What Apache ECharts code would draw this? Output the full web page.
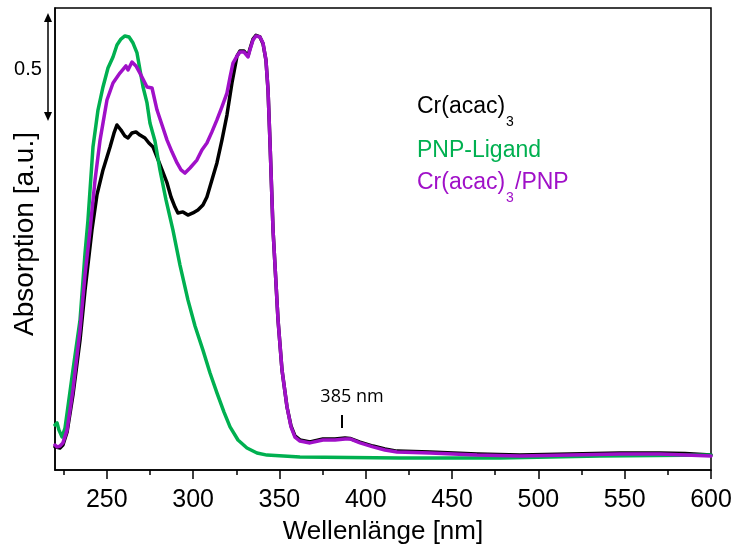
<!DOCTYPE html>
<html><head><meta charset="utf-8">
<script src="https://cdn.jsdelivr.net/npm/echarts@6/dist/echarts.min.js"></script>
<style>html,body{margin:0;padding:0;background:#fff}#c{width:736px;height:550px}</style>
</head><body><div id="c"></div>
<script>
// Wavelength tick labels
const xMajorTicks = [250, 300, 350, 400, 450, 500, 550, 600];
const xMinorTicks = [225, 275, 325, 375, 425, 475, 525, 575];

// PNP-Ligand (green)
const ligandNm  = [220.0,221.2,222.3,224.1,225.8,227.0,230.4,234.5,237.4,239.1,242.0,244.9,247.8,250.7,253.6,255.9,258.2,260.5,262.9,265.2,267.5,271.0,273.3,275.0,277.9,280.8,284.3,288.3,292.4,297.0,301.1,305.7,309.8,313.8,317.9,321.4,326.0,331.2,337.0,342.8,361.9,419.8,477.7,535.6,600.0];
const ligandAbs = [0.214,0.224,0.190,0.157,0.200,0.271,0.476,0.714,1.033,1.190,1.538,1.714,1.824,1.914,1.967,2.024,2.052,2.067,2.062,2.033,1.986,1.824,1.748,1.652,1.567,1.429,1.286,1.143,0.976,0.810,0.686,0.571,0.462,0.367,0.276,0.205,0.143,0.105,0.081,0.071,0.062,0.057,0.057,0.067,0.071];

// Cr(acac)3 (black)
const crNm  = [220.0,222.9,224.6,227.0,230.4,234.5,237.4,241.4,244.3,247.8,251.9,254.2,255.9,258.2,260.5,262.3,264.6,266.9,269.2,272.1,274.4,276.8,279.1,282.0,284.9,287.2,289.5,291.2,294.1,297.0,299.9,302.8,305.7,308.0,310.9,313.8,316.7,319.6,322.5,325.4,327.1,329.5,331.8,332.9,334.7,336.4,338.7,340.5,342.2,343.4,344.5,346.3,349.2,351.5,354.4,356.7,359.0,361.9,367.7,375.2,382.2,388.0,390.9,396.7,404.2,411.1,418.1,437.2,464.4,489.3,518.3,547.2,570.4,585.0,600.0];
const crAbs = [0.110,0.105,0.119,0.181,0.357,0.619,0.857,1.143,1.310,1.429,1.538,1.605,1.643,1.619,1.590,1.581,1.605,1.610,1.595,1.581,1.557,1.538,1.490,1.429,1.367,1.300,1.252,1.224,1.229,1.214,1.224,1.238,1.262,1.300,1.381,1.462,1.571,1.690,1.843,1.971,1.995,1.995,1.972,2.005,2.052,2.070,2.062,2.030,1.952,1.810,1.571,1.143,0.714,0.476,0.300,0.210,0.162,0.143,0.133,0.148,0.148,0.152,0.150,0.133,0.114,0.100,0.090,0.086,0.076,0.071,0.076,0.081,0.081,0.078,0.071];

// Cr(acac)3/PNP (purple)
const mixNm  = [220.0,221.2,222.9,224.6,227.0,230.4,234.5,237.4,240.3,243.2,246.1,250.1,253.6,257.6,261.1,262.3,264.6,266.9,269.2,273.3,276.2,279.1,282.0,284.9,287.8,290.7,293.0,295.3,298.2,302.2,305.1,308.0,310.9,313.8,316.7,319.6,321.4,323.1,325.4,327.1,329.5,331.8,332.9,334.7,336.4,338.7,340.5,342.2,343.4,344.5,346.3,349.2,351.5,354.4,356.7,359.0,361.9,367.7,375.2,382.2,388.0,390.9,396.7,404.2,411.1,418.1,437.2,464.4,489.3,518.3,547.2,570.4,600.0];
const mixAbs = [0.119,0.110,0.114,0.129,0.190,0.381,0.667,0.929,1.143,1.381,1.571,1.762,1.843,1.890,1.924,1.905,1.943,1.924,1.890,1.824,1.819,1.714,1.643,1.571,1.514,1.462,1.429,1.414,1.438,1.476,1.524,1.557,1.610,1.667,1.729,1.795,1.871,1.938,1.971,1.990,1.990,1.967,2.000,2.048,2.067,2.062,2.033,1.952,1.810,1.571,1.143,0.714,0.476,0.300,0.205,0.157,0.138,0.129,0.143,0.143,0.148,0.148,0.129,0.110,0.095,0.086,0.081,0.071,0.067,0.071,0.076,0.076,0.067];

function pairs(xs, ys) { return xs.map((x, i) => [x, ys[i]]); }

const FONT = '"Liberation Sans", Arial, sans-serif';
const chart = echarts.init(document.getElementById('c'), null, {renderer: 'canvas'});

function lineSeries(name, xs, ys, color, z) {
  return {
    name, type: 'line', data: pairs(xs, ys), showSymbol: false, symbol: 'none',
    lineStyle: {color, width: 3.5, join: 'round', cap: 'round'}, itemStyle: {color}, z, animation: false
  };
}

chart.setOption({
  animation: false,
  backgroundColor: '#fff',
  grid: {left: 55, right: 25, top: 8, bottom: 80, show: true, borderColor: '#000', borderWidth: 1.5, backgroundColor: 'transparent'},
  xAxis: [{
    type: 'value', min: 220, max: 600,
    axisLine: {show: true, lineStyle: {color: '#000', width: 1.5}},
    axisTick: {show: true, length: 9, customValues: xMajorTicks, lineStyle: {color: '#000', width: 1.5}},
    axisLabel: {show: true, customValues: xMajorTicks, fontSize: 25, color: '#000', fontFamily: FONT, margin: 18},
    splitLine: {show: false}
  }, {
    type: 'value', min: 220, max: 600, position: 'bottom',
    axisLine: {show: false},
    axisTick: {show: true, length: 5, customValues: xMinorTicks, lineStyle: {color: '#000', width: 1.5}},
    axisLabel: {show: false},
    splitLine: {show: false}
  }],
  yAxis: {
    type: 'value', min: 0, max: 2.2,
    axisLine: {show: true, lineStyle: {color: '#000', width: 1.5}},
    axisTick: {show: false}, axisLabel: {show: false}, splitLine: {show: false}
  },
  series: [
    lineSeries('Cr(acac)3', crNm, crAbs, '#000000', 2),
    lineSeries('PNP-Ligand', ligandNm, ligandAbs, '#00b050', 3),
    lineSeries('Cr(acac)3/PNP', mixNm, mixAbs, '#a010c8', 4)
  ],
  graphic: [
    // axis titles
    {type: 'text', x: 383, y: 532, style: {text: 'Wellenlänge [nm]', font: '26px ' + FONT, fill: '#000', align: 'center', verticalAlign: 'middle'}},
    {type: 'text', x: 25, y: 234, rotation: Math.PI / 2, style: {text: 'Absorption [a.u.]', font: '28px ' + FONT, fill: '#000', align: 'center', verticalAlign: 'middle'}},
    // legend texts
    {type: 'text', x: 417, y: 107, style: {text: 'Cr(acac)', font: '23px ' + FONT, fill: '#000', align: 'left', verticalAlign: 'middle'}},
    {type: 'text', x: 506, y: 122, style: {text: '3', font: '14px ' + FONT, fill: '#000', align: 'left', verticalAlign: 'middle'}},
    {type: 'text', x: 417, y: 151, style: {text: 'PNP-Ligand', font: '23px ' + FONT, fill: '#00b050', align: 'left', verticalAlign: 'middle'}},
    {type: 'text', x: 417, y: 183, style: {text: 'Cr(acac)', font: '23px ' + FONT, fill: '#a010c8', align: 'left', verticalAlign: 'middle'}},
    {type: 'text', x: 506, y: 198, style: {text: '3', font: '14px ' + FONT, fill: '#a010c8', align: 'left', verticalAlign: 'middle'}},
    {type: 'text', x: 515, y: 183, style: {text: '/PNP', font: '23px ' + FONT, fill: '#a010c8', align: 'left', verticalAlign: 'middle'}},
    // 385 nm annotation
    {type: 'text', x: 352, y: 397, style: {text: '385 nm', font: '18px "Open Sans", sans-serif', fill: '#000', align: 'center', verticalAlign: 'middle'}},
    {type: 'line', shape: {x1: 342, y1: 415, x2: 342, y2: 428}, style: {stroke: '#000', lineWidth: 2}},
    // 0.5 scale bar
    {type: 'line', shape: {x1: 48, y1: 20, x2: 48, y2: 114}, style: {stroke: '#000', lineWidth: 1.5}},
    {type: 'polygon', shape: {points: [[48, 13], [44, 22], [52, 22]]}, style: {fill: '#000'}},
    {type: 'polygon', shape: {points: [[48, 121], [44, 112], [52, 112]]}, style: {fill: '#000'}},
    {type: 'text', x: 28, y: 69, style: {text: '0.5', font: '20px ' + FONT, fill: '#000', align: 'center', verticalAlign: 'middle'}}
  ]
});
</script>
</body></html>
